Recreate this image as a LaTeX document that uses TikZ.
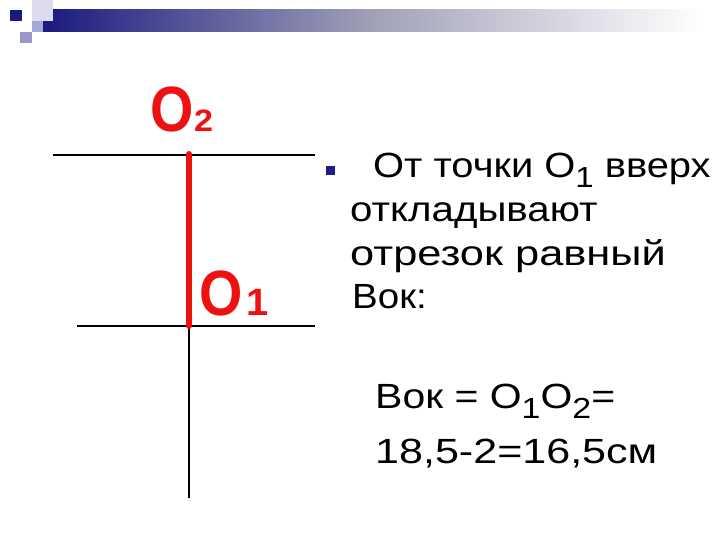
\documentclass[tikz,border=0pt]{standalone}
\usepackage{fontspec}
\setmainfont{Liberation Sans}
\newcommand{\subdig}[1]{\raisebox{-10pt}{\fontsize{29}{30}\selectfont #1}}
\begin{document}
\begin{tikzpicture}[x=1pt,y=-1pt,
  redlabel/.style={inner sep=0pt,text=labred,anchor=base west},
  bodytext/.style={inner sep=0pt,anchor=base west,text=black,font=\fontsize{35}{40}\selectfont},
  thinline/.style={draw=black,line width=1.2pt},
  decor/.style={draw=none}]
\definecolor{labred}{HTML}{EE1111}
\definecolor{navy}{HTML}{1A1A80}
\definecolor{bulletblue}{HTML}{1C1C8C}
\definecolor{lav1}{HTML}{DCDCEE}
\definecolor{lav2}{HTML}{A8A8D6}
\definecolor{lav3}{HTML}{9898CC}
\useasboundingbox (0,0) rectangle (720,540);
\fill[white] (0,0) rectangle (720,540);
% decoration
\shade[decor,left color=navy,right color=white,middle color={rgb,255:red,160;green,160;blue,184}] (43,10) rectangle (700,32);
\fill[lav1] (32,0) rectangle (53,21);
\fill[lav2] (32,21) rectangle (43,32);
\fill[lav3] (20,32) rectangle (32,43);
\fill[navy] (10,10) rectangle (22,21);
% geometry
\coordinate (tl) at (53,155);
\coordinate (tr) at (315,155);
\coordinate (bl) at (77,326);
\coordinate (br) at (315,326);
\coordinate (o2p) at (189,154);
\coordinate (o1p) at (189,326);
\coordinate (bot) at (189,498);
\draw[thinline] (tl) -- (tr);
\draw[thinline] (bl) -- (br);
\draw[thinline] (o1p) -- (bot);
\draw[labred,line width=6pt,line cap=round] (o2p) -- (o1p);
% red labels
\node[redlabel,font=\bfseries\fontsize{64}{66}\selectfont] (o2) at (150,132) {\scalebox{0.87}[1]{O}};
\node[redlabel,font=\bfseries\fontsize{31}{32}\selectfont] (o2s) at (194,132) {\scalebox{1.1}[1]{2}};
\node[redlabel,font=\bfseries\fontsize{64}{66}\selectfont] (o1) at (199,315) {\scalebox{0.87}[1]{O}};
\node[redlabel,font=\bfseries\fontsize{38}{40}\selectfont] (o1s) at (246,315) {\scalebox{1.05}[1]{1}};
% bullet text
\node[fill=bulletblue,minimum size=9pt,inner sep=0pt] (bul) at (330,171) {};
\node[bodytext] (l1) at (373,178) {\scalebox{1.14}[1]{От точки O\subdig{1} вверх}};
\node[bodytext] (l2) at (350,222) {\scalebox{1.15}[1]{откладывают}};
\node[bodytext] (l3) at (350,265) {\scalebox{1.24}[1]{отрезок равный}};
\node[bodytext] (l4) at (352,308) {\scalebox{1.1}[1]{Вок:}};
% bottom text
\node[bodytext] (b1) at (375,408) {\scalebox{1.17}[1]{Вок = O\subdig{1}O\subdig{2}=}};
\node[bodytext] (b2) at (375,463) {\scalebox{1.23}[1]{18,5-2=16,5см}};
\end{tikzpicture}
\end{document}
